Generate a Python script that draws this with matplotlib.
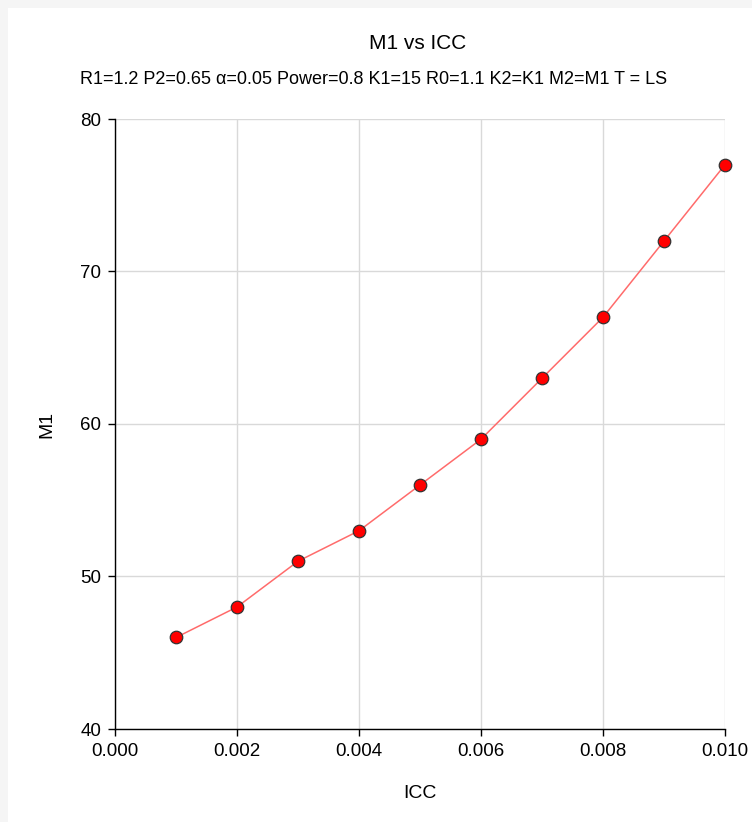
import matplotlib.pyplot as plt
from matplotlib.patches import Rectangle

icc = [0.001, 0.002, 0.003, 0.004, 0.005, 0.006, 0.007, 0.008, 0.009, 0.010]
m1 = [46, 48, 51, 53, 56, 59, 63, 67, 72, 77]
x_ticks = [0.000, 0.002, 0.004, 0.006, 0.008, 0.010]
y_ticks = [40, 50, 60, 70, 80]

plt.rcParams['font.family'] = ['Liberation Sans', 'DejaVu Sans']

fig = plt.figure(figsize=(7.52, 8.22), dpi=100, facecolor="#f5f5f5")
# white panel inside the light gray frame
fig.patches.append(Rectangle((8 / 752, 0), 1, 1 - 8 / 822, transform=fig.transFigure,
                             facecolor="white", edgecolor="none", zorder=-10))

ax = fig.add_axes([115 / 752, 1 - 729 / 822, 610 / 752, 610 / 822])
ax.set_facecolor("white")

ax.plot(icc, m1, color="#ff6b6b", linewidth=1.1, zorder=3)
ax.plot(icc, m1, linestyle="none", marker="o", markersize=9,
        markerfacecolor="#ff0000", markeredgecolor="#333333", markeredgewidth=0.9,
        zorder=4, clip_on=False)

ax.set_xlim(0, 0.010)
ax.set_ylim(40, 80)
ax.set_xticks(x_ticks)
ax.set_xticklabels([f"{v:.3f}" for v in x_ticks])
ax.set_yticks(y_ticks)
ax.tick_params(labelsize=13.5, length=5, width=1, color="black", pad=5)

ax.grid(True, color="#d9d9d9", linewidth=1)
ax.set_axisbelow(True)
for side in ["top", "right"]:
    ax.spines[side].set_visible(False)
for side in ["left", "bottom"]:
    ax.spines[side].set_color("black")
    ax.spines[side].set_linewidth(1)

ax.set_xlabel("ICC", fontsize=14, labelpad=18)
ax.set_ylabel("M1", fontsize=14, labelpad=18)

fig.text(418 / 752, 1 - 49 / 822, "M1 vs ICC", ha="center", va="baseline", fontsize=15)
fig.text(374 / 752, 1 - 84 / 822,
         "R1=1.2 P2=0.65 \u03b1=0.05 Power=0.8 K1=15 R0=1.1 K2=K1 M2=M1 T = LS",
         ha="center", va="baseline", fontsize=13)

fig.savefig("out.png", dpi=100, facecolor=fig.get_facecolor())
